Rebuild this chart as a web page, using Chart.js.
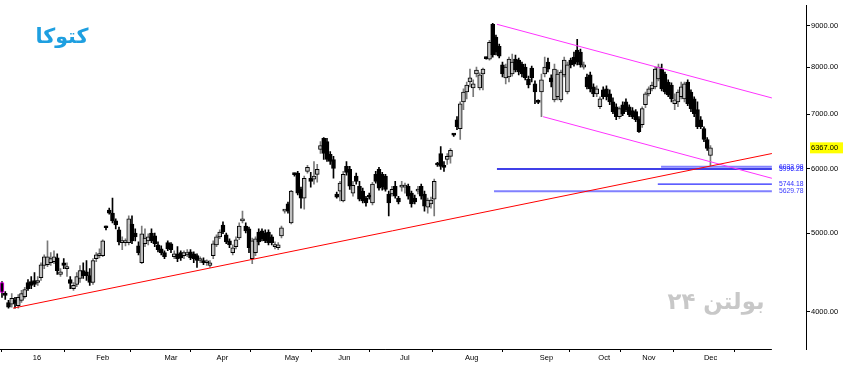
<!DOCTYPE html>
<html>
<head>
<meta charset="utf-8">
<script src="https://cdn.jsdelivr.net/npm/chart.js@4.4.1/dist/chart.umd.min.js"></script>
<style>
html, body { margin: 0; padding: 0; background: #fff; }
#wrap { width: 843px; height: 374px; }
</style>
</head>
<body>
<div id="wrap"><canvas id="chart" width="843" height="374"></canvas></div>
<script>
// daily candles, Dec 2015 - Dec 2016
const opens = [
  4345,4210,4105,4085,4130,4070,4130,4175,4345,4355,
  4370,4345,4405,4560,4570,4595,4610,4660,4445,4595,
  4520,4380,4270,4320,4395,4495,4480,4430,4345,4650,
  4690,4690,5085,5335,5290,5175,5045,4865,4865,4865,
  5130,5000,4820,4595,4850,4890,5000,4960,4835,4780,
  4730,4865,4850,4675,4715,4730,4690,4700,4740,4715,
  4690,4625,4625,4595,4560,4690,4835,4945,5115,4975,
  4890,4730,4810,4930,5175,5100,5060,4650,4730,5015,
  5030,5000,5015,4945,4810,4795,4960,5320,5430,5145,
  5905,5925,5660,5520,5955,5840,5825,5905,6340,6540,
  6480,6250,6160,5585,5630,5475,6040,5990,5600,5875,
  5710,5630,5520,5570,5445,5905,5990,5905,5875,5585,
  5585,5710,5520,5695,5695,5710,5600,5520,5630,5710,
  5585,5380,5430,5505,6075,6265,6060,6160,6215,6610,
  6895,6725,7255,7460,7675,7545,7850,7545,7850,8215,
  8190,9040,8715,8495,8055,7765,7785,7850,8190,8165,
  8075,8005,7740,7985,7635,7255,7460,7850,8120,7765,
  7295,7360,7295,7830,7460,8165,8235,8400,8355,8005,
  7785,7830,7570,7420,7155,7505,7525,7420,7255,7155,
  6955,7195,7255,7155,7075,7055,6915,6800,7195,7420,
  7525,7570,7740,7960,7850,7675,7610,7215,7255,7360,
  7315,7675,7460,7315,7095,6895,6725,6520,6230
];
const highs = [
  4355,4235,4130,4210,4165,4200,4250,4285,4380,4420,
  4470,4420,4595,4700,4890,4730,4755,4715,4520,4650,
  4595,4420,4345,4470,4560,4595,4625,4520,4650,4730,
  4780,4905,5100,5365,5520,5205,5085,4945,4920,5250,
  5250,5060,4875,5100,5060,4990,5060,5000,4875,4820,
  4755,4890,4865,4755,4810,4755,4755,4770,4770,4740,
  4715,4675,4660,4635,4625,4890,4975,5045,5160,5000,
  4920,4835,4945,5145,5320,5145,5085,4930,4945,5060,
  5060,5045,5045,4975,4875,4865,5100,5335,5460,5645,
  5925,5955,5695,5875,6060,5940,6125,6075,6480,6555,
  6540,6300,6215,5615,5790,5955,6125,6040,5790,5925,
  5790,5680,5550,5600,5775,5955,6025,5940,5905,5630,
  5710,5790,5550,5790,5760,5745,5630,5570,5710,5745,
  5630,5520,5535,5825,6110,6390,6125,6265,6355,6630,
  6955,7255,7525,7675,7960,7720,8005,7875,7985,8235,
  8640,9065,8765,8545,8120,8075,8235,8305,8285,8215,
  8120,8075,7805,8030,7700,7295,7850,8235,8215,7830,
  8075,7940,7940,8235,8120,8215,8355,8665,8425,8120,
  7850,7895,7635,7590,7360,7570,7590,7505,7335,7215,
  7155,7255,7315,7195,7135,7095,6955,7155,7460,7570,
  7675,8005,8075,8075,7895,7720,7655,7420,7505,7675,
  7675,7720,7505,7360,7255,6955,6760,6555,6410
];
const lows = [
  4165,4140,4040,4050,4040,4040,4105,4155,4250,4270,
  4295,4310,4370,4520,4545,4560,4585,4445,4420,4520,
  4420,4270,4250,4295,4345,4395,4370,4310,4320,4610,
  4660,4675,5045,5275,5145,5060,4835,4770,4820,4835,
  4850,4890,4700,4585,4810,4835,4865,4810,4740,4700,
  4650,4755,4730,4650,4610,4625,4650,4675,4635,4595,
  4535,4595,4570,4560,4535,4650,4810,4920,4990,4850,
  4795,4700,4780,4905,5145,5000,4730,4585,4690,4835,
  4890,4865,4835,4835,4780,4770,4930,5290,5290,5130,
  5875,5570,5365,5350,5925,5695,5745,5775,6265,6160,
  6125,6075,5840,5520,5475,5460,5890,5660,5550,5745,
  5475,5445,5395,5505,5415,5760,5645,5645,5630,5250,
  5550,5520,5430,5630,5600,5505,5380,5430,5585,5505,
  5320,5290,5365,5250,6040,5990,5955,6075,6095,6575,
  6705,6520,7095,7315,7570,7360,7785,7505,7505,8190,
  8165,8235,8285,8215,7785,7635,7675,7805,7895,7830,
  7785,7720,7545,7675,7215,7215,6955,7785,7895,7570,
  7255,7295,7255,7785,7420,7985,8030,8055,8005,7960,
  7525,7460,7360,7360,7115,7315,7295,7195,7015,6895,
  6915,6975,7055,6955,6915,6860,6650,6745,7135,7380,
  7485,7525,7700,7485,7420,7360,7255,7095,7155,7315,
  7255,7175,7055,6955,6725,6725,6480,6320,6040
];
const closes = [
  4225,4190,4050,4155,4095,4165,4210,4260,4270,4310,
  4320,4355,4570,4675,4675,4650,4675,4495,4480,4560,
  4545,4335,4310,4420,4495,4430,4430,4345,4625,4700,
  4715,4890,5075,5290,5175,5115,4875,4890,4890,5205,
  4890,4945,4730,4990,4930,4945,4890,4850,4770,4730,
  4675,4780,4770,4715,4650,4660,4730,4730,4660,4650,
  4625,4650,4595,4610,4595,4850,4945,5015,5015,4875,
  4835,4795,4905,5100,5205,5030,4795,4890,4920,4875,
  4920,4890,4865,4865,4835,4835,5075,5330,5320,5630,
  5900,5600,5520,5840,6025,5790,5875,5990,6410,6265,
  6160,6125,6005,5535,5760,5905,5940,5710,5725,5790,
  5505,5475,5445,5535,5745,5790,5680,5695,5660,5445,
  5660,5550,5460,5725,5710,5550,5430,5460,5660,5550,
  5395,5490,5490,5790,6065,6040,6025,6215,6320,6600,
  6760,7215,7460,7610,7765,7635,7940,7830,7960,8200,
  8590,8285,8355,8260,7850,8005,8190,8120,7940,7895,
  7850,7765,7610,7765,7460,7245,7720,8005,7960,7675,
  7960,7850,7895,8165,8055,8055,8075,8120,8055,8055,
  7570,7525,7420,7525,7315,7360,7360,7255,7055,6955,
  7115,7015,7095,6995,6955,6895,6665,7115,7420,7525,
  7610,7960,8005,7525,7460,7400,7315,7295,7460,7570,
  7635,7215,7115,7015,6760,6760,6520,6355,6367
];

// month starts, in candle index
const monthTicks = [9.5, 29, 50, 66, 87, 103.5, 122.5, 142.5, 165.5, 183.5, 197, 216];
const monthLabels = ['16', 'Feb', 'Mar', 'Apr', 'May', 'Jun', 'Jul', 'Aug', 'Sep', 'Oct', 'Nov', 'Dec'];
const priceTicks = [4000, 5000, 6000, 7000, 8000, 9000];
const lastPrice = 6367;

// drawn lines: candle index range and prices
const supportX = [3.4, 236.9], supportY = [4040, 6265];
const chanTopX = [152.3, 236.9], chanTopY = [9040, 7335];
const chanBotX = [166.5, 236.9], chanBotY = [6955, 5840];
const levelValues = [6033.08, 5996.28, 5744.18, 5629.78];
const levelStart = [202.8, 152.3, 201.8, 151.4];
const lineEnd = 236.9;

const idx = opens.map((_, i) => i);
const isUp = idx.map(i => closes[i] >= opens[i]);

const levelStyle = [
  { color: '#8080ff', width: 2, text: '#3c3cff' },
  { color: '#0000e0', width: 1.3, text: '#1010ff' },
  { color: '#2828ff', width: 1.2, text: '#2a2aff' },
  { color: '#8080ff', width: 2, text: '#3c3cff' }
];

function seg(xs, ys) {
  return xs.map((x, i) => ({ x: x, y: ys[i] }));
}

function lineDs(data, color, width) {
  return { type: 'line', data: data, borderColor: color, borderWidth: width,
    pointRadius: 0, fill: false, tension: 0, order: 0 };
}

function fitText(ctx, text, weight, color, cx, cy, targetW) {
  ctx.font = weight + ' 20px "DejaVu Sans"';
  const w = ctx.measureText(text).width;
  const size = 20 * targetW / w;
  ctx.font = weight + ' ' + size.toFixed(1) + 'px "DejaVu Sans"';
  ctx.fillStyle = color;
  ctx.textAlign = 'center';
  ctx.textBaseline = 'middle';
  ctx.fillText(text, cx, cy);
}

const decor = {
  id: 'decor',
  beforeDatasetsDraw(chart) {
    const ctx = chart.ctx;
    ctx.save();
    ctx.direction = 'rtl';
    fitText(ctx, 'کتوکا', 'bold', '#1e9fe0', 62, 38, 53);
    fitText(ctx, 'بولتن ۲۴', 'bold', '#c8c8c8', 716, 303, 97);
    ctx.restore();
  },
  afterDraw(chart) {
    const ctx = chart.ctx;
    const xs = chart.scales.x, ys = chart.scales.y;
    const area = chart.chartArea;
    ctx.save();
    // bottom axis line
    ctx.strokeStyle = '#000';
    ctx.lineWidth = 1;
    ctx.beginPath();
    ctx.moveTo(area.left, Math.round(area.bottom) + 0.5);
    ctx.lineTo(xs.getPixelForValue(lineEnd), Math.round(area.bottom) + 0.5);
    ctx.stroke();

    // level labels
    ctx.font = '6.8px "Liberation Sans"';
    ctx.textAlign = 'left';
    ctx.textBaseline = 'middle';
    levelValues.forEach((v, i) => {
      ctx.fillStyle = levelStyle[i].text;
      ctx.fillText(v.toFixed(2), xs.getPixelForValue(lineEnd) + 7, ys.getPixelForValue(v));
    });

    // last price tag
    const py = ys.getPixelForValue(lastPrice);
    ctx.fillStyle = '#ffff00';
    ctx.fillRect(area.right + 4, py - 5.5, 33, 11);
    ctx.fillStyle = '#000';
    ctx.font = '7.5px "Liberation Sans"';
    ctx.fillText(lastPrice.toFixed(2), area.right + 5, py + 0.5);
    ctx.restore();
  }
};

const datasets = [
  lineDs(seg(supportX, supportY), '#ff0000', 1),
  lineDs(seg(chanTopX, chanTopY), '#ff33ff', 1),
  lineDs(seg(chanBotX, chanBotY), '#ff33ff', 1)
];
levelValues.forEach((v, i) => {
  datasets.push(lineDs([{ x: levelStart[i], y: v }, { x: lineEnd, y: v }], levelStyle[i].color, levelStyle[i].width));
});
datasets.push({
  type: 'bar',
  data: idx.map(i => ({ x: i, y: [opens[i], closes[i]] })),
  backgroundColor: idx.map(i => isUp[i] ? '#c0c0c0' : '#000000'),
  borderColor: idx.map(i => i === 0 ? '#ff00ff' : '#000000'),
  borderWidth: 1,
  borderSkipped: false,
  barThickness: 4,
  minBarLength: 2,
  grouped: false,
  order: 1
});
datasets.push({
  type: 'bar',
  data: idx.map(i => ({ x: i, y: [lows[i], highs[i]] })),
  backgroundColor: idx.map(i => isUp[i] ? '#7a7a7a' : '#000000'),
  barThickness: 1,
  grouped: false,
  order: 2
});

new Chart(document.getElementById('chart').getContext('2d'), {
  type: 'bar',
  data: { datasets: datasets },
  plugins: [decor],
  options: {
    responsive: false,
    maintainAspectRatio: false,
    animation: false,
    devicePixelRatio: 1,
    events: [],
    layout: { padding: { top: 3, left: 0, right: 0, bottom: 0 } },
    plugins: { legend: { display: false }, tooltip: { enabled: false } },
    scales: {
      x: {
        type: 'linear',
        min: -0.615,
        max: 247.4,
        offset: false,
        border: { display: false },
        grid: { display: true, drawOnChartArea: false, drawTicks: true, tickLength: 3, color: '#000' },
        afterBuildTicks: s => { s.ticks = monthTicks.map(v => ({ value: v })); },
        afterFit: s => { s.height = 25; },
        ticks: {
          callback: (v, i) => monthLabels[i],
          align: 'start',
          autoSkip: false,
          maxRotation: 0,
          padding: 1,
          color: '#000',
          font: { family: 'Liberation Sans', size: 7.5 }
        }
      },
      y: {
        type: 'logarithmic',
        position: 'right',
        min: 3598,
        max: 9535,
        border: { display: true, color: '#000', width: 1 },
        grid: { display: true, drawOnChartArea: false, drawTicks: true, tickLength: 4, color: '#000' },
        afterBuildTicks: s => { s.ticks = priceTicks.map(v => ({ value: v })); },
        afterFit: s => { s.width = 37; },
        ticks: {
          callback: v => Number(v).toFixed(2),
          padding: 1,
          color: '#000',
          font: { family: 'Liberation Sans', size: 7.5 }
        }
      }
    }
  }
});
</script>
</body>
</html>
